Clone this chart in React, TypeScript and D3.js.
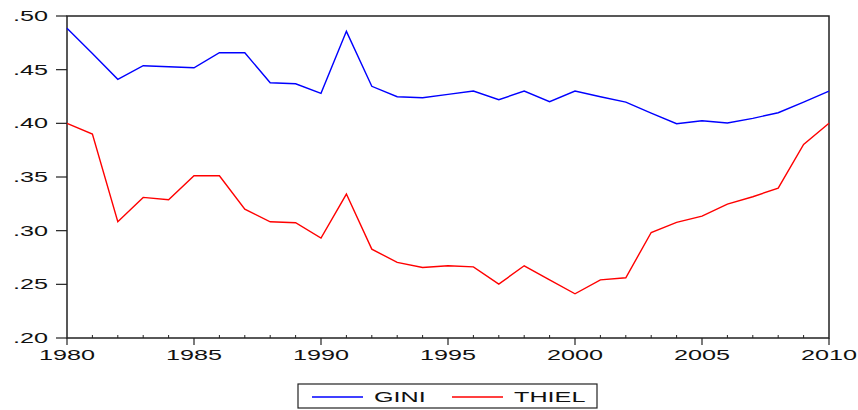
import React from "react";
import * as d3 from "d3";

const years = d3.range(1980, 2011);
const gini = [
  0.4885, 0.465, 0.441, 0.4537, 0.4527, 0.4518, 0.4658, 0.4658, 0.4378, 0.4369,
  0.4279, 0.4857, 0.4345, 0.4248, 0.4239, 0.427, 0.4301, 0.422, 0.4301, 0.4201,
  0.4301, 0.4248, 0.4198, 0.4096, 0.3996, 0.4024, 0.4003, 0.4046, 0.4099, 0.4198,
  0.4301,
];
const thiel = [
  0.4, 0.39, 0.3083, 0.331, 0.3288, 0.3512, 0.3512, 0.3201, 0.3083, 0.3074,
  0.2931, 0.3341, 0.2828, 0.2704, 0.2657, 0.2673, 0.2663, 0.2502, 0.2673, 0.2542,
  0.2412, 0.2542, 0.2561, 0.2983, 0.3077, 0.3136, 0.3248, 0.3316, 0.3397, 0.3804,
  0.4,
];
const yTicks = [0.2, 0.25, 0.3, 0.35, 0.4, 0.45, 0.5];
const yTickLabels = [".20", ".25", ".30", ".35", ".40", ".45", ".50"];
const xMajor = [1980, 1985, 1990, 1995, 2000, 2005, 2010];
const seriesNames = ["GINI", "THIEL"];
const seriesColors = ["#0000ff", "#ff0000"];

export default function App() {
  const W = 858, H = 410;
  const L = 67, R = 829, T = 16, B = 338;
  const x = d3.scaleLinear().domain([1980, 2010]).range([L, R]);
  const y = d3.scaleLinear().domain([0.2, 0.5]).range([B, T]);
  const line = d3
    .line<number>()
    .x((_, i) => x(years[i]))
    .y((d) => y(d));
  const font = "Arial, 'Liberation Sans', sans-serif";
  const sx = 1.8;
  const series = [gini, thiel];
  const legendX = [312, 452];
  return (
    <svg
      width={W}
      height={H}
      style={{ position: "absolute", left: 0, top: 0, background: "#fff" }}
      fontFamily={font}
    >
      <rect x={0} y={0} width={W} height={H} fill="#fff" />
      {/* frame */}
      <rect x={L} y={T} width={R - L} height={B - T} fill="none" stroke="#222" strokeWidth={1.5} />
      {/* y ticks */}
      {yTicks.map((t, i) => (
        <g key={t}>
          <line x1={L - 11} x2={L} y1={y(t)} y2={y(t)} stroke="#222" strokeWidth={1.2} />
          <text
            transform={`translate(48,${y(t) + 5}) scale(${sx},1)`}
            textAnchor="end"
            fontSize={14}
            fill="#111"
          >
            {yTickLabels[i]}
          </text>
        </g>
      ))}
      {/* x ticks */}
      {years.map((yr) =>
        xMajor.includes(yr) ? (
          <g key={yr}>
            <line x1={x(yr)} x2={x(yr)} y1={B} y2={B + 7} stroke="#222" strokeWidth={1.2} />
            <text
              transform={`translate(${x(yr)},360) scale(${sx},1)`}
              textAnchor="middle"
              fontSize={14}
              fill="#111"
            >
              {yr}
            </text>
          </g>
        ) : (
          <line key={yr} x1={x(yr)} x2={x(yr)} y1={B} y2={B - 3} stroke="#222" strokeWidth={1} />
        )
      )}
      {/* lines */}
      {series.map((s, i) => (
        <path key={i} d={line(s) || ""} fill="none" stroke={seriesColors[i]} strokeWidth={1.4} />
      ))}
      {/* legend */}
      <rect x={298} y={384} width={299} height={24} fill="#fff" stroke="#222" strokeWidth={1.2} />
      {seriesNames.map((n, i) => (
        <g key={n}>
          <line x1={legendX[i]} x2={legendX[i] + 51} y1={397} y2={397} stroke={seriesColors[i]} strokeWidth={1.3} />
          <text
            transform={`translate(${legendX[i] + 62},401.5) scale(${sx},1)`}
            fontSize={14}
            fill="#111"
          >
            {n}
          </text>
        </g>
      ))}
    </svg>
  );
}
